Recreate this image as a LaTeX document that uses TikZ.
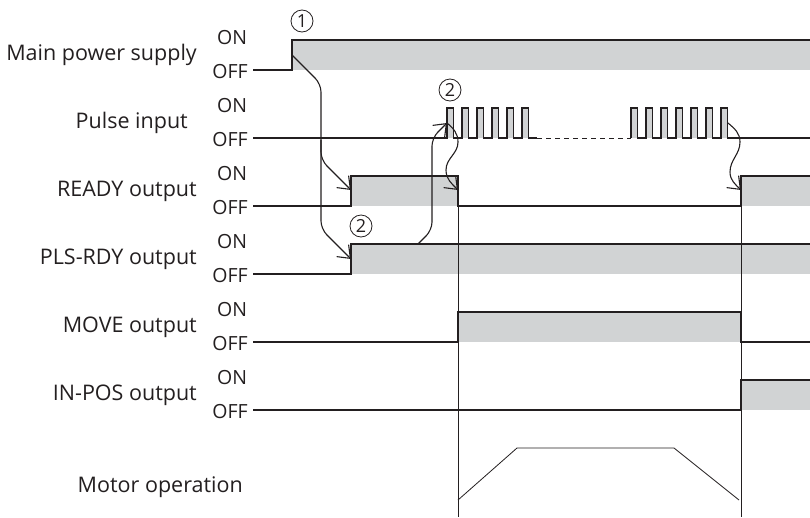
\documentclass[tikz,border=0pt]{standalone}
\usepackage{fontspec}
\setmainfont{Open Sans}
\usetikzlibrary{arrows.meta}
\definecolor{SigFill}{RGB}{209,211,212}
\definecolor{SigLine}{RGB}{35,31,32}
\tikzset{
  sig/.style={SigLine, line width=1.3pt},
  guide/.style={SigLine, line width=0.6pt},
  cause/.style={SigLine, line width=1.1pt, -{Straight Barb[length=11pt,width=17pt]}},
  lbl/.style={font=\fontsize{21.5}{23}\selectfont, anchor=east, inner sep=0pt, text=SigLine},
  lvl/.style={font=\fontsize{19.5}{20}\selectfont, inner sep=0pt, text=SigLine},
  circnum/.style={circle, draw=SigLine, line width=0.8pt, minimum size=22pt, inner sep=0pt,
    font=\fontsize{18}{18}\selectfont, text=SigLine}
}

\begin{document}
\begin{tikzpicture}[x=1pt,y=-1pt]
        \useasboundingbox (0,0) rectangle (810,517);
        % signal names
        \node[lbl] (lmain) at (197,55) {Main power supply};
        \node[lbl] (lpulse) at (188,123) {Pulse input};
        \node[lbl] (lready) at (197,191) {READY output};
        \node[lbl] (lplsrdy) at (197,259) {PLS-RDY output};
        \node[lbl] (lmove) at (197,327) {MOVE output};
        \node[lbl] (linpos) at (197,395) {IN-POS output};
        \node[lbl] (lmotor) at (243,487) {Motor operation};
        \foreach \r in {0,...,5}{
          \node[lvl] (on\r) at (232,38+68*\r) {ON};
          \node[lvl] (off\r) at (230,72+68*\r) {OFF};
        }
        % grey ON areas
        \fill[SigFill] (292,40) rectangle (810,70);
        \foreach \k in {0,...,5}{\fill[SigFill] (447+15*\k,108) rectangle ++(6.5,30);}
        \foreach \k in {0,...,6}{\fill[SigFill] (631+15*\k,108) rectangle ++(6.5,30);}
        \fill[SigFill] (351,176) rectangle (458,206);
        \fill[SigFill] (741,176) rectangle (810,206);
        \fill[SigFill] (351,244) rectangle (810,274);
        \fill[SigFill] (458,312) rectangle (741,342);
        \fill[SigFill] (741,380) rectangle (810,410);
        % guide lines
        \draw[guide] (458,206) -- (458,517);
        \draw[guide] (741,206) -- (741,517);
        % waveforms
        \draw[sig] (253,70) -- (292,70) -- (292,40) -- (810,40);
        \draw[sig] (253,138) -- (447,138)
          \foreach \k in {0,...,5}{ -- ++(0,-30) -- ++(6.5,0) -- ++(0,30) -- ++(8.5,0)};
        \draw[sig, line width=0.9pt, dash pattern=on 5pt off 4pt] (537,138) -- (631,138);
        \draw[sig] (631,138)
          \foreach \k in {0,...,6}{ -- ++(0,-30) -- ++(6.5,0) -- ++(0,30) -- ++(8.5,0)} -- (810,138);
        \draw[sig] (253,206) -- (351,206) -- (351,176) -- (458,176) -- (458,206) -- (741,206) -- (741,176) -- (810,176);
        \draw[sig] (253,274) -- (351,274) -- (351,244) -- (810,244);
        \draw[sig] (253,342) -- (458,342) -- (458,312) -- (741,312) -- (741,342) -- (810,342);
        \draw[sig] (253,410) -- (741,410) -- (741,380) -- (810,380);
        \draw[guide, line width=0.8pt] (458,500) -- (517,448) -- (674,448) -- (739,500);
        % cause and effect
        \coordinate (pwr-up) at (292,55);
        \coordinate (rdy-up) at (351,190);
        \coordinate (pls-up) at (351,259);
        \coordinate (pls-on) at (418,244);
        \coordinate (pulse-first) at (447,123);
        \coordinate (rdy-dn) at (458,190);
        \coordinate (pulse-last) at (728,123);
        \coordinate (rdy-up2) at (741,190);
        \draw[cause, rounded corners=8pt] (pwr-up) -- (321,84) -- (321,229) -- (pls-up);
        \draw[cause, rounded corners=8pt] (321,140) -- (321,160) -- (rdy-up);
        \draw[cause, rounded corners=8pt] (pls-on) -- (432,230) -- (432,138) -- (pulse-first);
        \draw[cause] (pulse-first) to[out=-40,in=90] (458,142) to[out=-90,in=90] (446,170) to[out=-90,in=135] (rdy-dn);
        \draw[cause] (pulse-last) to[out=-40,in=90] (740,142) to[out=-90,in=90] (730,172) to[out=-90,in=135] (rdy-up2);
        \node[circnum] (n1) at (302,21) {1};
        \node[circnum] (n2a) at (450,90) {2};
        \node[circnum] (n2b) at (361,226) {2};
      \end{tikzpicture}
\end{document}
